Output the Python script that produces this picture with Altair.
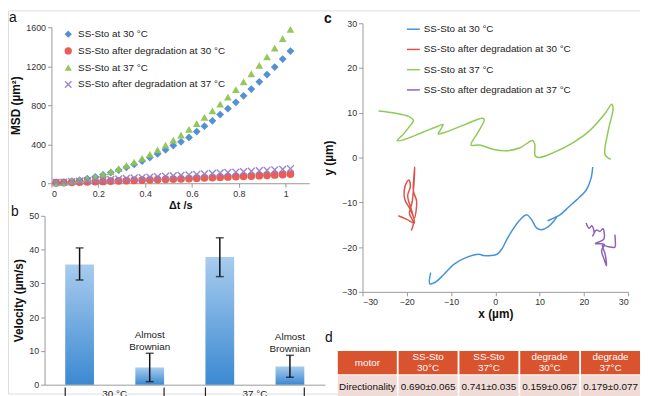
import altair as alt
import pandas as pd

FONT = "Liberation Sans"
OX, OY = 8, 8
W, H = 640, 388


def px(p):
    return p - OX


def py(p):
    return p - OY


# ---------------- panel a: MSD ----------------
series = ["SS-Sto at 30 °C", "SS-Sto after degradation at 30 °C",
          "SS-Sto at 37 °C", "SS-Sto after degradation at 37 °C"]
dt = [0.02, 0.053, 0.087, 0.12, 0.153, 0.187, 0.22, 0.253, 0.287, 0.32, 0.353,
      0.387, 0.42, 0.453, 0.487, 0.52, 0.553, 0.587, 0.62, 0.653, 0.687, 0.72,
      0.753, 0.787, 0.82, 0.853, 0.887, 0.92, 0.953, 0.987, 1.02]
msd_30 = [3, 10, 21, 33, 48, 66, 86, 109, 135, 163, 193, 228, 263, 301, 343, 387,
          425, 470, 530, 585, 640, 704, 765, 830, 897, 966, 1040, 1114, 1191, 1273, 1355]
msd_deg30 = [5, 7, 9, 12, 14, 17, 19, 22, 25, 27, 30, 32, 35, 38, 40, 43, 45, 48,
             52, 55, 58, 62, 65, 68, 71, 74, 78, 81, 85, 89, 94]
msd_37 = [3, 10, 21, 35, 51, 71, 94, 120, 150, 182, 217, 256, 297, 342, 390, 441,
          494, 553, 612, 675, 743, 812, 884, 961, 1040, 1121, 1208, 1295, 1386, 1482, 1579]
msd_deg37 = [8, 12, 16, 21, 26, 31, 35, 40, 44, 49, 54, 58, 63, 67, 72, 77, 81, 86,
             91, 96, 100, 105, 110, 114, 119, 124, 128, 133, 138, 143, 150]

colors_a = ["#4a8ad4", "#e8554e", "#8fc453", "#8e80cc"]
x_path = "M-1,-0.75L-0.75,-1L0,-0.25L0.75,-1L1,-0.75L0.25,0L1,0.75L0.75,1L0,0.25L-0.75,1L-1,0.75L-0.25,0Z"
shapes_a = ["diamond", "circle", "triangle-up", x_path]

rows = []
for s, vals in zip(series, [msd_30, msd_deg30, msd_37, msd_deg37]):
    for t, v in zip(dt, vals):
        rows.append({"series": s, "t": t, "msd": v})
df_a = pd.DataFrame(rows)

axis_common = dict(labelFont=FONT, labelFontSize=9, labelColor="#333",
                   domainColor="#999", tickColor="#999", tickSize=4,
                   titleFont=FONT, titleFontWeight="bold", titleColor="#111",
                   grid=False, labelPadding=2)

leg_a = dict(title=None, orient="none", legendX=px(64), legendY=py(27),
             labelFont=FONT, labelFontSize=10, labelColor="#222", symbolSize=55,
             rowPadding=7, labelOffset=5, padding=0, labelLimit=400)

panel_a = alt.Chart(df_a).mark_point(filled=True, opacity=0.95, size=62).encode(
    x=alt.X("t:Q", scale=alt.Scale(domain=[0, 1.1], range=[px(52), px(313)], nice=False, zero=False),
            axis=alt.Axis(orient="bottom", offset=py(183) - H, values=[0, 0.2, 0.4, 0.6, 0.8, 1],
                          format="~g", title="Δt /s", titleFontSize=11, titlePadding=2, **axis_common)),
    y=alt.Y("msd:Q", scale=alt.Scale(domain=[0, 1600], range=[py(183), py(25)], nice=False),
            axis=alt.Axis(orient="left", offset=-px(52), values=[0, 400, 800, 1200, 1600],
                          format="d", title="MSD (µm²)", titleFontSize=12, titlePadding=3, **axis_common)),
    color=alt.Color("series:N", scale=alt.Scale(domain=series, range=colors_a), legend=alt.Legend(**leg_a)),
    shape=alt.Shape("series:N", scale=alt.Scale(domain=series, range=shapes_a), legend=alt.Legend(**leg_a)),
)

# ---------------- panel b: velocity bars ----------------
cats = ["SS-Sto 30 °C", "degraded 30 °C", "SS-Sto 37 °C", "degraded 37 °C"]
vel = [35.6, 5.1, 37.8, 5.4]
err_lo = [31.0, 0.9, 32.0, 2.2]
err_hi = [40.5, 9.3, 43.5, 8.7]
notes = ["", "Almost\nBrownian", "", "Almost\nBrownian"]
groups = ["30 °C", "37 °C"]
group_first = [cats[0], cats[2]]
group_last = [cats[1], cats[3]]

df_b = pd.DataFrame({"cat": cats, "vel": vel, "lo": err_lo, "hi": err_hi, "note": notes})
df_g = pd.DataFrame({"group": groups, "first": group_first, "last": group_last})

xb_scale = alt.Scale(domain=cats, range=[px(45), px(329)], paddingInner=0.59, paddingOuter=0.295)
yb_scale = alt.Scale(domain=[0, 50], range=[py(387), py(216)], nice=False)

xb = alt.X("cat:N", scale=xb_scale,
           axis=alt.Axis(orient="bottom", offset=py(387) - H, labels=False, ticks=False, title=None,
                         domainColor="#999", grid=False))
yb = alt.Y("vel:Q", scale=yb_scale,
           axis=alt.Axis(orient="left", offset=-px(45), values=list(range(0, 51, 5)),
                         labelExpr="datum.value % 10 === 0 ? datum.label : ''",
                         title="Velocity (µm/s)", titleFontSize=12, titlePadding=3, **axis_common))

grad = alt.Gradient(gradient="linear",
                    stops=[alt.GradientStop(color="#a8ccee", offset=0),
                           alt.GradientStop(color="#3b89d2", offset=1)],
                    x1=0, x2=0, y1=0, y2=1)
bars = alt.Chart(df_b).mark_bar(color=grad).encode(x=xb, y=yb)
err = alt.Chart(df_b).mark_rule(color="#111", strokeWidth=1.5).encode(
    x=alt.X("cat:N", scale=xb_scale), y=alt.Y("lo:Q", scale=yb_scale), y2="hi:Q")
cap_lo = alt.Chart(df_b).mark_tick(color="#111", thickness=1.5, size=8).encode(
    x=alt.X("cat:N", scale=xb_scale), y=alt.Y("lo:Q", scale=yb_scale))
cap_hi = alt.Chart(df_b).mark_tick(color="#111", thickness=1.5, size=8).encode(
    x=alt.X("cat:N", scale=xb_scale), y=alt.Y("hi:Q", scale=yb_scale))
note_txt = alt.Chart(df_b).transform_filter("datum.note != ''").mark_text(
    font=FONT, fontSize=10, color="#222", baseline="bottom", lineBreak="\n", lineHeight=12, dy=-13
).encode(x=alt.X("cat:N", scale=xb_scale), y=alt.Y("hi:Q", scale=yb_scale), text="note:N")
tick_first = alt.Chart(df_g).mark_rule(color="#222", strokeWidth=1.2).encode(
    x=alt.X("first:N", scale=xb_scale, bandPosition=0),
    y=alt.datum(-0.8, scale=yb_scale), y2=alt.datum(-4.5))
tick_last = alt.Chart(df_g).mark_rule(color="#222", strokeWidth=1.2).encode(
    x=alt.X("last:N", scale=xb_scale, bandPosition=1),
    y=alt.datum(-0.8, scale=yb_scale), y2=alt.datum(-4.5))
group_txt = alt.Chart(df_g).mark_text(font=FONT, fontSize=10, color="#222", baseline="top", dx=35.5).encode(
    x=alt.X("first:N", scale=xb_scale, bandPosition=0.5),
    y=alt.datum(-1.3, scale=yb_scale), text="group:N")

panel_b = alt.layer(bars, err, cap_lo, cap_hi, note_txt, tick_first, tick_last, group_txt)

# ---------------- panel c: trajectories ----------------
bx = [-14.6, -14.8, -13.5, -11.8, -9.3, -6.5, -3.7, -2.6, -1.0, 0.4, 1.5, 2.6, 4.0, 5.6,
      7.1, 8.2, 9.3, 10.4, 11.9, 13.8, 11.9, 14.6, 16.5, 18.3, 20.5, 21.6, 22.0]
by = [-25.7, -28.2, -27.8, -26.3, -23.8, -22.3, -21.6, -21.9, -21.9, -21.6, -20.4, -18.3,
      -16.0, -13.9, -12.8, -13.9, -15.7, -16.1, -15.5, -13.3, -14.1, -12.8, -11.1, -9.5,
      -7.3, -4.7, -2.1]
rx = [-21.9, -20.0, -18.3, -19.0, -20.4, -20.6, -20.0, -19.5, -19.2, -19.8, -19.0, -18.3,
      -17.8, -17.8, -18.5, -18.4, -18.2, -18.4, -18.8, -19.4, -18.5, -19.0]
ry = [-13.0, -13.8, -14.6, -12.0, -9.5, -7.5, -5.5, -5.0, -6.5, -8.5, -11.5, -13.5, -11.0,
      -9.6, -7.5, -4.5, -2.1, -6.0, -10.0, -12.5, -14.5, -16.3]
gx = [-26.4, -22.5, -19.6, -18.5, -19.5, -21.0, -22.2, -21.0, -16.5, -13.0, -11.8, -12.4,
      -12.9, -11.5, -7.0, -3.0, -2.5, -4.0, -5.5, -3.6, -0.3, 2.3, 5.6, 8.4, 8.9, 9.0, 9.8,
      13.1, 17.5, 21.2, 24.6, 26.3, 26.6, 25.5, 24.8, 26.1]
gy = [10.4, 9.9, 9.2, 8.3, 6.8, 5.0, 3.8, 3.9, 5.6, 7.0, 7.4, 6.2, 5.3, 5.6, 7.3, 8.8, 8.5,
      5.5, 2.8, 2.8, 1.8, 1.5, 2.2, 3.8, 3.0, 0.4, 0.0, 1.1, 3.3, 5.9, 9.6, 11.9, 11.0, 6.0,
      0.6, -0.4]
ux = [20.5, 21.2, 21.8, 22.3, 22.0, 22.8, 23.6, 24.3, 24.5, 22.6, 24.6, 24.0, 24.6, 25.1,
      24.8, 24.2, 25.5, 27.0, 27.1, 27.0]
uy = [-14.6, -15.8, -15.2, -16.8, -17.5, -16.2, -16.5, -15.9, -18.2, -19.2, -19.4, -20.8,
      -22.8, -24.2, -21.5, -19.6, -19.9, -20.0, -18.6, -17.2]
colors_c = ["#4592dc", "#dc5248", "#8fca58", "#8a63c2"]

rows = []
for s, xs, ys in zip(series, [bx, rx, gx, ux], [by, ry, gy, uy]):
    for i, (xv, yv) in enumerate(zip(xs, ys)):
        rows.append({"series": s, "i": i, "x": xv, "y": yv})
df_c = pd.DataFrame(rows)

leg_c = dict(title=None, orient="none", legendX=px(411), legendY=py(19.5),
             labelFont=FONT, labelFontSize=10, labelColor="#222", symbolType="stroke",
             symbolSize=170, symbolStrokeWidth=1.5, rowPadding=7.5, labelOffset=3,
             padding=0, labelLimit=400)

panel_c = alt.Chart(df_c).mark_line(interpolate="catmull-rom", strokeWidth=1.5).encode(
    x=alt.X("x:Q", scale=alt.Scale(domain=[-30, 30], range=[px(367), px(636)], nice=False, zero=False),
            axis=alt.Axis(orient="bottom", offset=py(293) - H, values=list(range(-30, 31, 10)),
                          title="x (µm)", titleFontSize=12, titlePadding=2, **axis_common)),
    y=alt.Y("y:Q", scale=alt.Scale(domain=[-30, 30], range=[py(293), py(21)], nice=False, zero=False),
            axis=alt.Axis(orient="left", offset=-px(367), values=list(range(-30, 31, 10)),
                          title="y (µm)", titleFontSize=12, titlePadding=6, **axis_common)),
    color=alt.Color("series:N", scale=alt.Scale(domain=series, range=colors_c), legend=alt.Legend(**leg_c)),
    detail="series:N",
    order=alt.Order("i:Q"),
)

# ---------------- panel d: table ----------------
col_ids = ["c0", "c1", "c2", "c3", "c4"]
header = ["motor", "SS-Sto\n30°C", "SS-Sto\n37°C", "degrade\n30°C", "degrade\n37°C"]
values_row = ["Directionality", "0.690±0.065", "0.741±0.035", "0.159±0.067", "0.179±0.077"]

rows = []
for c, h, v in zip(col_ids, header, values_row):
    rows.append({"col": c, "row": "header", "txt": h})
    rows.append({"col": c, "row": "value", "txt": v})
df_d = pd.DataFrame(rows)

xd = alt.X("col:N", scale=alt.Scale(domain=col_ids, range=[px(342), px(648)], paddingInner=0.03, paddingOuter=0), axis=None)
yd = alt.Y("row:N", scale=alt.Scale(domain=["header", "value"], range=[py(353), py(401)], paddingInner=0.04, paddingOuter=0), axis=None)

cells = alt.Chart(df_d).mark_rect().encode(
    x=xd, y=yd,
    fill=alt.condition("datum.row == 'header'", alt.value("#d8532e"), alt.value("#f1dbd6")),
)
txt_two = alt.Chart(df_d).transform_filter("indexof(datum.txt, '\\n') >= 0").mark_text(
    font=FONT, fontSize=10, lineBreak="\n", lineHeight=11, baseline="middle", dy=-5.5
).encode(
    x=xd, y=yd, text="txt:N",
    color=alt.condition("datum.row == 'header'", alt.value("#ffffff"), alt.value("#111111")),
)
txt_one = alt.Chart(df_d).transform_filter("indexof(datum.txt, '\\n') < 0").mark_text(
    font=FONT, fontSize=10, baseline="middle"
).encode(
    x=xd, y=yd, text="txt:N",
    color=alt.condition("datum.row == 'header'", alt.value("#ffffff"), alt.value("#111111")),
)
panel_d = alt.layer(cells, txt_two, txt_one)

# ---------------- panel letters ----------------
letters = pd.DataFrame({"t": ["a"]})


def letter(ch, x, y, bold=False):
    return alt.Chart(letters).mark_text(text=ch, font=FONT, fontSize=14, color="#111",
                                        fontWeight="bold" if bold else "normal",
                                        align="center", baseline="middle").encode(
        x=alt.value(px(x)), y=alt.value(py(y)))


lab = alt.layer(letter("a", 13, 16), letter("b", 15, 212), letter("c", 332, 17, True), letter("d", 333, 340))

chart = alt.layer(panel_a, panel_b, panel_c, panel_d, lab).resolve_scale(
    x="independent", y="independent", color="independent", shape="independent"
).properties(
    width=W, height=H, padding=0, autosize=alt.AutoSizeParams(type="none"), background="white",
).configure_view(strokeWidth=0).configure(font=FONT)

chart.save("out.html", embed_options={"renderer": "svg", "actions": False})
